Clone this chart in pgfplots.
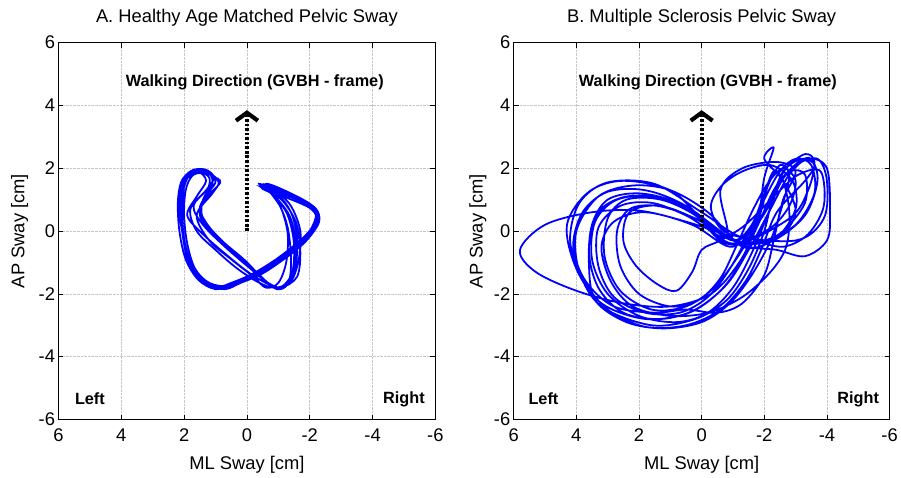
\documentclass[border=0pt]{standalone}
\usepackage{fontspec}
\setmainfont{Liberation Sans}
\usepackage{pgfplots}
\pgfplotsset{compat=1.18}
\usetikzlibrary{arrows.meta}
\definecolor{mblue}{RGB}{0,0,255}
\pgfplotsset{
  swaystyle/.style={
    scale only axis, height=380bp,
    xmin=-6,xmax=6,ymin=-6,ymax=6, x dir=reverse,
    xtick={-6,-4,...,6}, ytick={-6,-4,...,6},
    grid=major, major grid style={black!22, densely dotted, line width=0.5bp},
    tick align=inside, major tick length=5bp,
    axis line style={black, line width=0.6bp},
    tick style={black, line width=0.6bp},
    /pgf/number format/assume math mode=true,
    tick label style={font=\fontsize{18.5bp}{21bp}\selectfont},
    xticklabel style={yshift=-6bp},
    label style={font=\fontsize{18.5bp}{22bp}\selectfont},
    title style={font=\fontsize{18.5bp}{22bp}\selectfont, at={(0.5,1.037)}, anchor=base},
    xlabel={ML Sway [cm]}, ylabel={AP Sway [cm]},
    xlabel style={at={(axis description cs:0.5,-0.134)}, anchor=base},
    clip=false,
  },
  trace/.style={mblue, line width=1.8bp, smooth, tension=0.55},
  walkarrow/.style={black, line width=4bp, dash pattern=on 2.6bp off 2bp, -{Straight Barb[length=8bp, width=22bp, line width=4.2bp]}},
}
\newcommand{\annot}{\bfseries\fontsize{16.4bp}{19bp}\selectfont}
\begin{document}
\begin{tikzpicture}
\path (0,0) rectangle (901bp,480bp);
% ---------- Panel A ----------
\begin{axis}[swaystyle, at={(59bp,57bp)}, anchor=south west, width=380bp,
  title={A. Healthy Age Matched Pelvic Sway},
  ylabel style={at={(axis description cs:-0.103,0.5)}, anchor=center}]
\addplot[trace] coordinates {
(-0.5,1.5) (-1.3,1.2) (-2.0,0.85) (-2.25,0.45) (-1.9,-0.1) (-1.2,-0.7) (-0.4,-1.25) (0.3,-1.6) (0.8,-1.8) (1.4,-1.6) (1.85,-1.0) (2.05,-0.1) (2.1,0.8) (2.0,1.5) (1.75,1.9) (1.35,1.9) (1.0,1.6) (1.2,1.25) (1.5,0.7) (1.1,0.0) (0.4,-0.7) (-0.3,-1.3) (-0.8,-1.75) (-1.2,-1.75) (-1.45,-1.3) (-1.5,-0.4) (-1.3,0.5) (-0.9,1.1)
(-0.55,1.45) (-1.4,1.1) (-2.1,0.8) (-2.3,0.4) (-1.95,-0.2) (-1.3,-0.8) (-0.5,-1.35) (0.2,-1.65) (0.7,-1.85) (1.3,-1.7) (1.75,-1.2) (2.0,-0.3) (2.15,0.6) (2.1,1.35) (1.9,1.8) (1.5,1.95) (1.2,1.85) (1.1,1.5) (1.4,1.0) (1.4,0.4) (0.8,-0.3) (0.1,-0.9) (-0.5,-1.5) (-0.95,-1.85) (-1.3,-1.7) (-1.55,-1.1) (-1.6,-0.2) (-1.4,0.6) (-1.0,1.15)
(-0.45,1.4) (-1.2,1.15) (-1.9,0.9) (-2.2,0.55) (-2.0,0.0) (-1.5,-0.55) (-0.8,-1.1) (0.0,-1.5) (0.6,-1.75) (1.2,-1.65) (1.65,-1.2) (1.9,-0.4) (2.0,0.5) (1.95,1.3) (1.75,1.75) (1.45,1.85) (1.2,1.7) (1.25,1.35) (1.7,0.8) (1.4,0.2) (0.7,-0.5) (0.0,-1.1) (-0.6,-1.6) (-1.05,-1.8) (-1.35,-1.55) (-1.4,-0.8) (-1.3,0.1) (-1.05,0.8)
(-0.6,1.5) (-1.5,1.15) (-2.15,0.75) (-2.3,0.3) (-1.85,-0.35) (-1.1,-0.95) (-0.3,-1.4) (0.4,-1.7) (1.0,-1.85) (1.55,-1.55) (1.95,-0.9) (2.15,0.0) (2.2,0.9) (2.1,1.55) (1.85,1.85) (1.55,1.9) (1.3,1.6) (1.6,1.1) (1.9,0.5) (1.4,-0.1) (0.6,-0.8) (-0.1,-1.35) (-0.7,-1.7) (-1.1,-1.8) (-1.6,-1.45) (-1.7,-0.6) (-1.55,0.3) (-1.1,1.0)
(-0.5,1.35) (-1.3,1.05) (-2.05,0.7) (-2.2,0.3) (-1.7,-0.3) (-1.0,-0.85) (-0.2,-1.35) (0.5,-1.65) (0.9,-1.75) (1.5,-1.45) (1.9,-0.7) (2.05,0.2) (2.05,1.0) (1.95,1.6) (1.65,1.85) (1.2,1.85) (0.9,1.55) (1.1,1.2) (1.6,0.5) (1.2,-0.3) (0.5,-0.9) (-0.2,-1.45) (-0.6,-1.8) (-1.0,-1.65) (-1.25,-1.0) (-1.3,-0.1) (-1.1,0.7) (-0.8,1.2)
(-0.4,1.5) (-1.1,1.25) (-1.85,0.95) (-2.2,0.6) (-2.1,0.1) (-1.6,-0.45) (-0.9,-1.0) (-0.1,-1.45) (0.5,-1.7) (1.0,-1.8) (1.6,-1.4) (1.95,-0.6) (2.1,0.3) (2.15,1.2) (2.0,1.7) (1.7,1.95) (1.3,1.95) (1.05,1.7) (1.3,1.3) (1.8,0.7) (1.6,0.0) (1.0,-0.6) (0.3,-1.2) (-0.4,-1.65) (-0.9,-1.8) (-1.4,-1.6) (-1.65,-0.9) (-1.7,0.0) (-1.4,0.8) (-0.9,1.3)
(-0.5,1.45) (-1.25,1.15) (-2.0,0.8) (-2.3,0.45) (-2.0,-0.15) (-1.35,-0.7) (-0.6,-1.2) (0.1,-1.55) (0.7,-1.8) (1.25,-1.7) (1.7,-1.25) (1.95,-0.5) (2.1,0.4) (2.05,1.2) (1.85,1.75) (1.45,1.9) (1.1,1.75) (0.85,1.55) (1.3,1.05) (1.5,0.5) (1.0,-0.2) (0.3,-0.85) (-0.3,-1.35) (-0.85,-1.8) (-1.2,-1.7) (-1.5,-1.2) (-1.55,-0.3) (-1.35,0.5) (-0.9,1.1) (-0.55,1.45)
};
\addplot[walkarrow] coordinates {(0,0) (0,3.85)};
\node[font=\annot] at (axis cs:-0.25,4.75) {Walking Direction (GVBH - frame)};
\node[font=\annot] at (axis cs:5.0,-5.35) {Left};
\node[font=\annot] at (axis cs:-5.0,-5.35) {Right};
\end{axis}
% ---------- Panel B ----------
\begin{axis}[swaystyle, at={(518bp,57bp)}, anchor=south west, width=379bp,
  title={B. Multiple Sclerosis Pelvic Sway},
  ylabel style={at={(axis description cs:-0.095,0.5)}, anchor=center}]
\addplot[trace] coordinates {
(-1.0,-0.2) (0.5,0.3) (2.0,0.65) (3.5,0.6) (5.0,0.2) (5.8,-0.6) (5.3,-1.3) (4.0,-1.9) (2.5,-2.3) (1.0,-2.4) (-0.3,-2.0) (-1.2,-1.0) (-1.8,0.2) (-2.3,1.3) (-2.8,1.9) (-3.3,1.8) (-3.3,0.9) (-2.6,0.0) (-1.8,-0.4)
(-1.0,-0.3) (0.0,0.4) (1.0,1.3) (2.5,1.6) (3.6,1.25) (4.3,0.2) (4.0,-1.2) (3.2,-2.3) (1.8,-2.8) (0.4,-2.6) (-0.6,-1.9) (-1.3,-0.9) (-1.8,0.4) (-2.0,1.7) (-2.3,2.65) (-2.0,2.3) (-2.6,1.6) (-3.0,0.6) (-2.4,-0.2)
(-0.8,-0.4) (0.2,0.5) (1.3,1.0) (2.4,1.0) (3.0,0.4) (3.1,-0.8) (2.6,-1.9) (1.6,-2.5) (0.5,-2.4) (-0.4,-1.8) (-1.1,-0.9) (-1.7,0.1) (-2.2,1.0) (-2.6,1.7) (-3.1,2.2) (-3.5,2.3) (-3.7,1.6) (-3.3,0.5) (-2.3,-0.3)
(-1.3,-0.5) (-0.2,0.6) (1.0,1.3) (2.2,1.45) (3.3,1.1) (4.0,0.0) (3.9,-1.3) (3.2,-2.4) (1.6,-3.0) (0.2,-2.8) (-0.8,-2.2) (-1.5,-1.2) (-2.0,0.0) (-2.3,1.2) (-2.7,2.0) (-3.3,2.45) (-3.6,2.2) (-3.4,1.3) (-2.8,0.4)
(-1.0,-0.4) (0.3,0.6) (1.5,1.1) (2.7,1.0) (3.4,0.3) (3.5,-0.9) (3.0,-2.0) (2.0,-2.7) (0.8,-2.9) (-0.2,-2.6) (-1.0,-1.8) (-1.6,-0.7) (-2.1,0.5) (-2.5,1.5) (-3.0,2.1) (-3.7,2.3) (-4.0,1.6) (-3.9,0.4) (-3.0,-0.3)
(-0.9,-0.1) (-0.3,0.7) (-0.6,1.4) (-1.3,1.9) (-2.2,2.1) (-2.9,1.6) (-3.0,0.7) (-2.4,-0.2) (-1.5,-0.4)
(-0.5,0.0) (0.8,0.9) (2.0,1.2) (3.0,1.0) (3.5,0.2) (3.6,-1.0) (3.4,-2.2) (2.4,-2.9) (1.2,-3.1) (0.0,-2.9) (-0.9,-2.3) (-1.6,-1.4) (-2.2,-0.3) (-2.6,0.9) (-2.8,1.8) (-2.5,2.1) (-2.1,1.4) (-1.8,0.4)
(-1.1,-0.3) (0.0,0.4) (1.2,1.0) (2.4,1.1) (3.3,0.6) (3.6,-0.6) (3.3,-1.8) (2.5,-2.6) (1.3,-2.8) (0.2,-2.5) (-0.8,-1.7) (-1.5,-0.6) (-2.2,0.7) (-2.8,1.8) (-3.4,2.3) (-4.0,2.0) (-4.1,0.6) (-4.0,-0.3) (-3.3,-0.8) (-2.4,-0.6)
(-1.2,-0.4) (0.5,0.8) (1.8,1.3) (3.0,1.25) (3.8,0.6) (4.1,-0.5) (3.7,-1.6) (2.8,-2.4) (1.5,-2.6) (0.5,-2.5) (-0.5,-2.6) (-1.3,-2.3) (-2.0,-1.4) (-2.3,-0.3) (-2.6,1.0) (-3.0,1.9) (-2.4,2.2) (-1.3,2.0) (-0.6,1.3)
(-0.8,-0.2) (0.5,0.5) (1.6,0.9) (2.6,0.8) (3.3,0.1) (3.3,-1.1) (2.8,-2.1) (1.8,-2.6) (0.7,-2.6) (-0.2,-2.1) (-0.9,-1.2) (-1.5,-0.1) (-2.0,1.0) (-2.5,1.9) (-3.0,2.3) (-3.5,2.1) (-3.6,1.2) (-3.0,0.2) (-2.0,-0.3)
(-1.0,-0.3) (0.2,0.4) (1.4,0.8) (2.3,0.7) (2.7,0.0) (2.6,-1.1) (2.0,-2.0) (1.0,-2.4) (0.1,-2.2) (-0.6,-1.5) (-1.1,-0.5) (-1.6,0.6) (-2.1,1.5) (-2.6,2.0) (-3.0,1.6) (-2.8,0.8) (-2.2,0.1)
(-1.3,-0.2) (0.0,0.6) (1.5,1.5) (3.0,1.55) (3.9,0.9) (4.2,-0.3) (3.8,-1.5) (3.0,-2.5) (1.8,-3.05) (0.5,-3.0) (-0.6,-2.5) (-1.4,-1.6) (-1.9,-0.6) (-2.4,0.6) (-3.3,1.6) (-3.6,2.1) (-3.2,2.3) (-2.6,1.9) (-2.2,0.9) (-1.6,0.0)
(-0.9,-0.5) (0.3,0.2) (1.8,0.6) (2.8,0.3) (3.2,-0.5) (2.9,-1.6) (2.2,-2.4) (1.0,-2.7) (-0.2,-2.6) (-1.3,-2.1) (-2.2,-1.3) (-2.7,-0.5) (-2.8,0.6) (-2.6,1.6) (-2.3,1.9) (-2.0,1.2) (-1.6,0.2)
(-1.0,-0.3) (0.0,0.3) (1.3,0.8) (2.3,0.6) (2.5,-0.3) (2.1,-1.1) (1.4,-1.7) (0.8,-1.9) (0.3,-1.3) (0.0,-0.6) (-0.6,-0.3) (-1.4,0.2) (-2.4,1.2) (-3.1,1.8) (-3.8,1.9) (-3.9,0.8) (-3.4,-0.1) (-2.6,-0.5) (-1.7,-0.3)
};
\addplot[walkarrow] coordinates {(0,0) (0,3.85)};
\node[font=\annot] at (axis cs:-0.2,4.75) {Walking Direction (GVBH - frame)};
\node[font=\annot] at (axis cs:5.05,-5.35) {Left};
\node[font=\annot] at (axis cs:-5.0,-5.35) {Right};
\end{axis}
\end{tikzpicture}
\end{document}
